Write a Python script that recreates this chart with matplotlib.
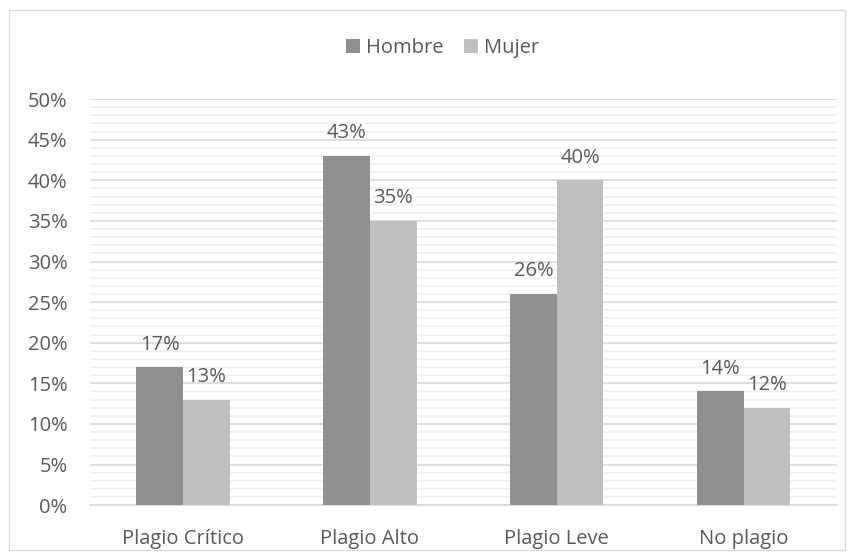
import numpy as np
import matplotlib.pyplot as plt
from matplotlib.patches import Rectangle

categories = ['Plagio Crítico', 'Plagio Alto', 'Plagio Leve', 'No plagio']
hombre = [17, 43, 26, 14]
mujer = [13, 35, 40, 12]
series_names = ['Hombre', 'Mujer']

plt.rcParams['font.family'] = ['Open Sans', 'DejaVu Sans']
txt = '#595959'
fs = 14.5

fig = plt.figure(figsize=(8.54, 5.6), dpi=100)
ax = fig.add_axes([0.105, 0.098, 0.875, 0.725])

# outer chart frame
fig.patches.append(Rectangle((9/854, 10/560), 836/854, 540/560, transform=fig.transFigure,
                             fill=False, edgecolor='#d9d9d9', linewidth=1))

x = np.arange(len(categories))
w = 0.25
b1 = ax.bar(x - w/2, hombre, w, color='#8f8f8f', label=series_names[0], zorder=3)
b2 = ax.bar(x + w/2, mujer, w, color='#bfbfbf', label=series_names[1], zorder=3)

for bars, vals in [(b1, hombre), (b2, mujer)]:
    for r, v in zip(bars, vals):
        ax.annotate('%d%%' % v, (r.get_x() + r.get_width()/2, v), xytext=(0, 9),
                    textcoords='offset points', ha='center', va='bottom',
                    fontsize=fs, color=txt)

ax.set_xlim(-0.5, 3.5)
ax.set_ylim(0, 50)
ax.set_yticks(np.arange(0, 51, 5))
ax.set_yticklabels(['%d%%' % t for t in range(0, 51, 5)])
ax.set_yticks(np.arange(0, 51, 1), minor=True)
ax.set_xticks(x)
ax.set_xticklabels(categories)
ax.grid(axis='y', which='major', color='#d9d9d9', linewidth=1.2, zorder=0)
ax.grid(axis='y', which='minor', color='#f0f0f0', linewidth=1.2, zorder=0)
ax.tick_params(axis='both', which='both', length=0, labelsize=fs, labelcolor=txt)
ax.tick_params(axis='y', pad=16)
ax.tick_params(axis='x', pad=17)
for s in ['top', 'right', 'left']:
    ax.spines[s].set_visible(False)
ax.spines['bottom'].set_color('#d9d9d9')
ax.spines['bottom'].set_linewidth(1.2)

leg = fig.legend(loc='center', bbox_to_anchor=(0.518, 0.914), ncol=2, frameon=False,
                 fontsize=fs, handlelength=0.7, handleheight=0.7, handletextpad=0.3,
                 columnspacing=1.0)
for t in leg.get_texts():
    t.set_color(txt)

fig.savefig('out.png', dpi=100)
